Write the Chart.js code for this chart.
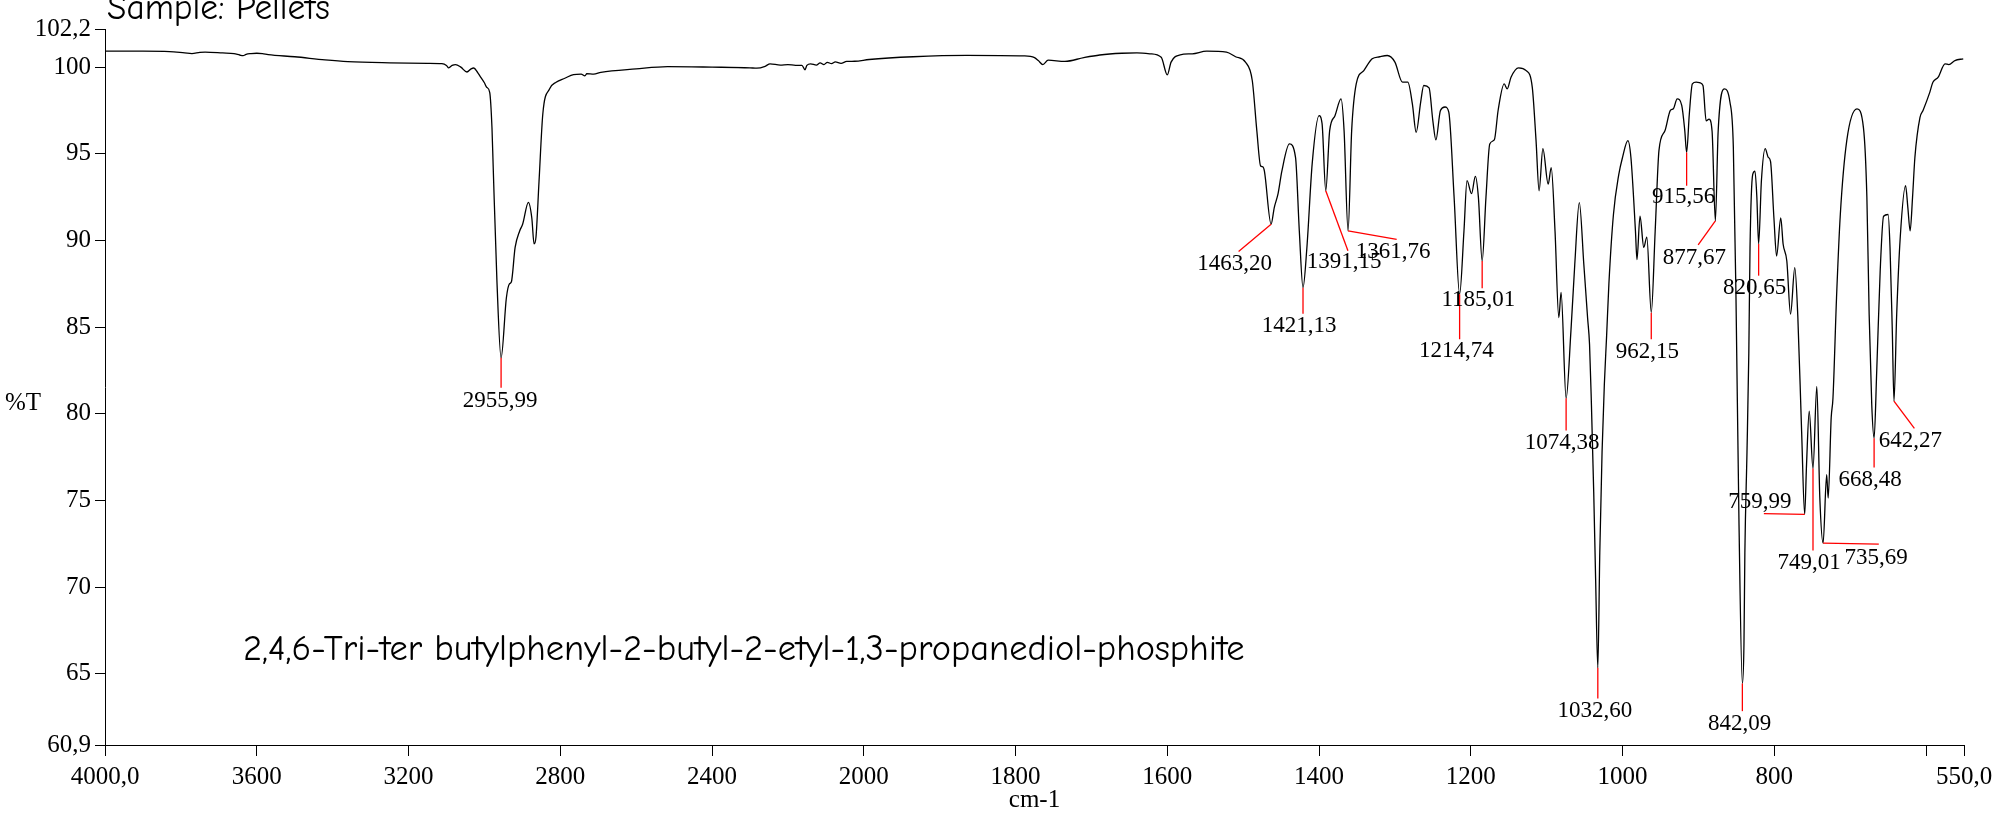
<!DOCTYPE html>
<html><head><meta charset="utf-8">
<script src="https://cdn.jsdelivr.net/npm/chart.js@4/dist/chart.umd.min.js"></script>
<style>html,body{margin:0;padding:0;background:#fff;overflow:hidden}canvas{display:block}</style>
</head><body>
<canvas id="c" width="2015" height="822" style="width:2015px;height:822px"></canvas>
<script>
// ---------- DATA ----------
const wavenumbers = [4000,3900,3830,3790,3771,3750,3736,3690,3660,3645,3636,3628,3615,3600,3585,3570,3500,3420,3360,3250,3150,3112,3100,3094,3085,3076,3062,3046,3035,3028,3018,3012,3000,2994,2986,2980,2977,2967,2955.99,2942,2934,2929,2919,2907,2899,2884,2875,2869,2864,2856,2846,2828,2811,2788,2765,2745,2735,2730,2712,2693,2600,2517,2400,2300,2282,2260,2247,2220,2200,2180,2163,2155,2150,2140,2125,2115,2105,2096,2085,2075,2060,2045,2024,1993,1935,1864,1788,1775,1770,1764,1757,1735,1710,1689,1660,1640,1623,1608,1600,1595,1583,1567,1548,1522,1510,1497,1488,1482,1477,1474,1472,1463.2,1459,1454,1449,1439,1431,1426,1421.13,1416,1409,1400,1396,1391.15,1386,1379,1371,1367,1361.76,1357,1351,1341,1330,1320,1310,1300,1290,1283,1277,1272,1266,1262,1255,1250,1246,1240,1234,1229,1222,1214.74,1209,1205,1199,1194,1190,1185.01,1180,1175,1169,1164,1156,1152,1147,1137,1127,1119,1114,1110,1105,1098,1094,1089,1084,1081,1074.38,1068,1063,1057,1051,1046,1043.5,1041,1038,1035.5,1032.6,1030,1027,1024,1021,1018,1012,1005,1000,993,989,983,981,977,972,968,962.15,957,952,944,937,933,928,922,918,915.56,912,908,903,898,894,889.8,886,882,877.67,874,866,858.5,854,850.5,846.6,842.09,840,838.8,836,833.6,832,828.5,825.5,823,820.65,817,812,808,805,800.5,797,791.5,788.4,783.5,778.6,773,769,764,759.99,757.5,754,749.01,744,740,735.69,731,729,725,722.7,718,713,704.5,691,682.5,678,675,671.6,668.48,665,660.5,656,650,647.5,644.5,642.27,638.7,634,627,624,621,617.8,614.7,608,604,595,591,584,575,570,562,551];
const transmittance = [100.92,100.92,100.9,100.82,100.78,100.85,100.87,100.82,100.78,100.7,100.66,100.74,100.78,100.8,100.78,100.72,100.6,100.42,100.32,100.25,100.22,100.2,100.1,99.96,100.1,100.15,100.0,99.72,99.9,99.95,99.7,99.5,99.1,98.84,98.55,96.5,94.4,87.7,83.23,86.7,87.5,87.6,89.6,90.55,90.95,92.2,91.3,89.8,90.2,93.4,97.3,98.75,99.13,99.36,99.57,99.6,99.5,99.62,99.6,99.7,99.9,100.03,100.0,99.96,99.94,100.05,100.19,100.12,100.15,100.1,100.1,99.85,100.1,100.19,100.12,100.25,100.15,100.28,100.2,100.3,100.22,100.33,100.34,100.44,100.6,100.68,100.65,100.55,100.38,100.15,100.4,100.33,100.55,100.7,100.8,100.82,100.77,100.57,99.55,100.29,100.71,100.77,100.92,100.86,100.6,100.29,99.23,96.34,94.3,94.25,94.0,90.94,91.9,92.7,94.0,95.57,94.8,90.55,87.28,89.6,94.45,97.2,96.74,92.87,96.34,97.2,98.17,96.34,90.55,96.34,99.03,99.8,100.48,100.6,100.67,100.29,99.13,99.13,97.88,96.24,98.0,98.94,98.8,96.9,95.8,97.5,97.7,97.4,92.5,86.9,90.55,93.45,92.7,93.7,92.5,88.82,92.5,95.57,95.8,97.5,99.03,98.75,99.42,99.96,99.8,98.85,95.76,92.87,95.3,93.25,94.2,90.55,85.55,87.0,80.9,84.8,88.6,92.19,88.6,85.5,84.0,80.5,75.5,70.5,65.35,72.0,77.8,81.7,84.5,87.5,91.5,93.8,94.8,95.76,94.8,90.55,88.9,91.4,89.6,90.2,85.84,90.55,95.2,96.34,97.5,97.6,98.17,97.8,96.34,95.08,97.3,99.03,99.13,99.1,98.94,96.9,97.0,96.3,91.13,96.3,98.75,97.99,95.4,86.7,73.9,64.45,66.7,72.0,77.8,83.5,89.6,93.8,94.0,92.5,89.8,93.45,95.3,94.8,94.57,91.3,89.1,91.3,89.8,88.82,85.75,88.43,85.6,78.99,74.2,77.1,80.15,76.85,81.58,75.14,72.54,76.5,75.14,79.8,80.9,86.7,91.5,95.76,97.59,96.5,92.5,85.75,80.55,78.6,82.5,88.2,91.4,91.5,89.6,84.8,80.74,85.75,90.2,93.16,91.9,90.55,92.5,94.8,97.1,97.5,98.56,99.13,99.42,100.19,100.15,100.38,100.48];

const peakWavenumbers = [2955.99,1463.20,1421.13,1391.15,1361.76,1214.74,1185.01,1074.38,1032.60,962.15,915.56,877.67,842.09,820.65,759.99,749.01,735.69,668.48,642.27];
const peakTransmittance = [83.23,90.94,87.28,92.87,90.55,86.9,88.82,80.9,65.35,85.84,95.08,91.13,64.45,89.8,74.2,76.85,72.54,78.6,80.74];

const xTickValues = [4000,3600,3200,2800,2400,2000,1800,1600,1400,1200,1000,800,600,550];
const xTickText = {4000:'4000,0', 550:'550,0', 600:''};
const yTickValues = [60.9,65,70,75,80,85,90,95,100,102.2];

// ---------- STYLE / LAYOUT (pixel offsets of leader lines and labels) ----------
const leaderOffsets = [
  [0,30,-1,43],[-32.5,27.3,-36.4,40],[0,26,-3.8,38.3],[22.2,60,18.4,71.7],[48.6,8.3,45,20.7],
  [0,45,-3.3,57],[0,27.3,-3.8,39.3],[0,32.3,-3.9,45],[0,30.7,-3,43],[0,26.7,-3.8,39],
  [0,33.3,-3,45],[-17.2,24,-21,36.7],[0,27.7,-2.7,40],[0,31.7,-4,44],[-40.8,-0.7,-44.7,-12.7],
  [0,82,-3.9,94.3],[55.7,1,52.9,14.3],[0,29.3,-3.9,42],[20.4,27.3,16.5,40]
];
const SERIF = "'Liberation Serif','Times New Roman',serif";
const HAND = "'Comic Sans MS','Comic Neue','DejaVu Sans',sans-serif";

// ---------- custom IR axis: 4000-2000 at half density of 2000-550 ----------
const BREAK = 2000;
function irWeight(v, hi){
  return v >= BREAK ? (hi - v) : (hi - BREAK) + (BREAK - v) * 2;
}
class IRScale extends Chart.LinearScale {
  getPixelForValue(value){
    if (value === null || value === undefined || isNaN(value)) return NaN;
    const total = irWeight(this.min, this.max);
    return this.left + irWeight(value, this.max) / total * this.width;
  }
  getValueForPixel(pixel){
    const total = irWeight(this.min, this.max);
    const w = (pixel - this.left) / this.width * total;
    const wb = this.max - BREAK;
    return w <= wb ? this.max - w : BREAK - (w - wb) / 2;
  }
}
IRScale.id = 'irAxis';
IRScale.defaults = Chart.LinearScale.defaults;
Chart.register(IRScale);

function fitText(ctx, text, family, width, maxSize){
  ctx.font = '100px ' + family;
  const w = ctx.measureText(text).width;
  return Math.min(maxSize, 100 * width / w);
}

const peakPlugin = {
  id:'peaks',
  afterDatasetsDraw(chart){
    const {ctx, scales:{x,y}} = chart;
    ctx.save();
    peakWavenumbers.forEach((wn,i)=>{
      const px = x.getPixelForValue(wn), py = y.getPixelForValue(peakTransmittance[i]);
      const [dx,dy,lx,ly] = leaderOffsets[i];
      ctx.strokeStyle = '#ff0000'; ctx.lineWidth = 1.3;
      ctx.beginPath(); ctx.moveTo(px,py); ctx.lineTo(px+dx,py+dy); ctx.stroke();
      ctx.fillStyle = '#000'; ctx.font = '23px ' + SERIF;
      ctx.textAlign = 'center'; ctx.textBaseline = 'middle';
      ctx.fillText(wn.toFixed(2).replace('.',','), px+lx, py+ly);
    });
    ctx.restore();
  }
};
const textPlugin = {
  id:'texts',
  afterDraw(chart){
    const {ctx, chartArea} = chart;
    ctx.save();
    ctx.fillStyle = '#000';
    ctx.textAlign = 'left'; ctx.textBaseline = 'alphabetic';
    const sample = 'Sample: Pellets';
    ctx.font = fitText(ctx, sample, HAND, 223, 40) + 'px ' + HAND;
    ctx.fillText(sample, 107, 19);
    const title = '2,4,6-Tri-ter butylphenyl-2-butyl-2-etyl-1,3-propanediol-phosphite';
    ctx.font = fitText(ctx, title, HAND, 1002, 44) + 'px ' + HAND;
    ctx.textBaseline = 'middle';
    ctx.fillText(title, 243, 650);
    ctx.font = '25px ' + SERIF;
    ctx.fillText('%T', 5, 403);
    ctx.textAlign = 'center';
    ctx.fillText('cm-1', (chartArea.left + chartArea.right) / 2, 800);
    ctx.restore();
  }
};

new Chart(document.getElementById('c').getContext('2d'), {
  type: 'line',
  data: { datasets: [{
    data: wavenumbers.map((w,i)=>({x:w, y:transmittance[i]})),
    borderColor:'#000', borderWidth:1.3, pointRadius:0, fill:false,
    cubicInterpolationMode:'monotone'
  }]},
  options: {
    responsive:false, animation:false, devicePixelRatio:1,
    layout:{padding:{left:0, top:29, right:51, bottom:0}},
    plugins:{legend:{display:false}, tooltip:{enabled:false}},
    scales:{
      x:{
        type:'irAxis', min:550, max:4000,
        afterBuildTicks: s => { s.ticks = xTickValues.map(v=>({value:v})); },
        afterFit: s => { s.height = 77; },
        ticks:{autoSkip:false, maxRotation:0, minRotation:0, padding:6, color:'#000',
          font:{family:SERIF, size:25},
          callback: v => (v in xTickText) ? xTickText[v] : String(v)},
        grid:{drawOnChartArea:false, drawTicks:true, tickLength:11, color:'#000', lineWidth:1},
        border:{display:true, color:'#000', width:1}
      },
      y:{
        type:'linear', min:60.9, max:102.2,
        afterBuildTicks: s => { s.ticks = yTickValues.map(v=>({value:v})); },
        afterFit: s => { s.width = 105; },
        ticks:{autoSkip:false, padding:4, color:'#000', font:{family:SERIF, size:25},
          callback: v => String(v).replace('.',',')},
        grid:{drawOnChartArea:false, drawTicks:true, tickLength:10, color:'#000', lineWidth:1},
        border:{display:true, color:'#000', width:1}
      }
    }
  },
  plugins:[peakPlugin, textPlugin]
});
</script>
</body></html>
